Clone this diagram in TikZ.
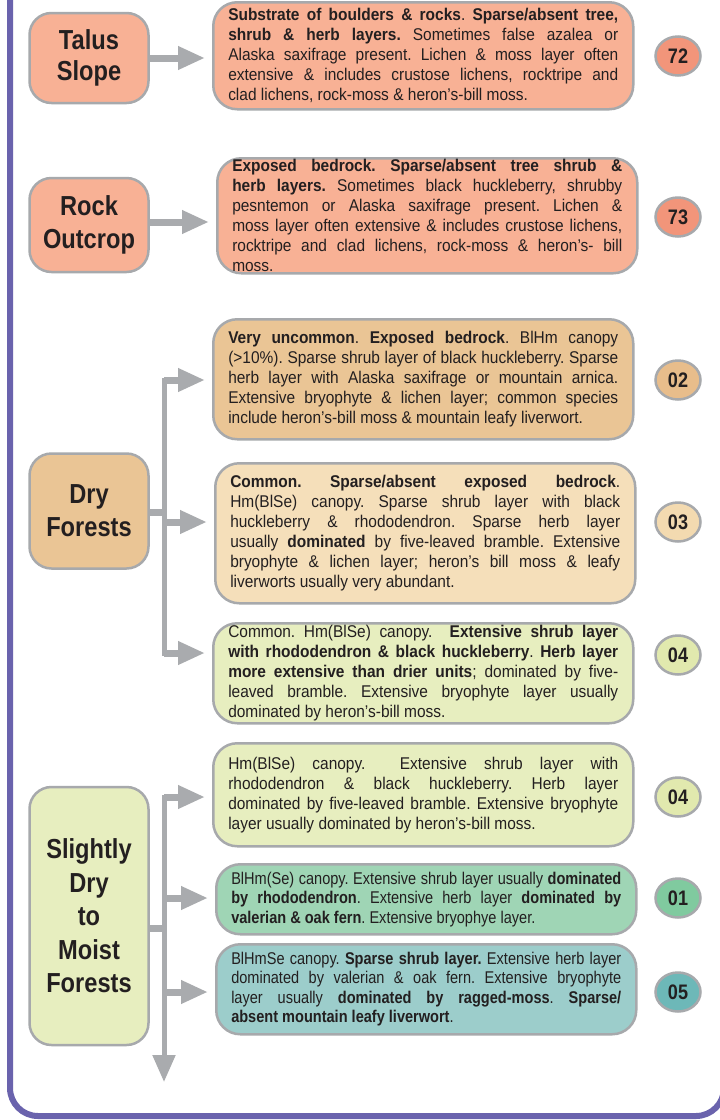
\documentclass[tikz,border=0pt]{standalone}
\usepackage{fontspec}
\setmainfont{Liberation Sans}[FakeStretch=0.91]
\newfontfamily\narrowf{Liberation Sans}[FakeStretch=0.856]
\newfontfamily\titlef{Liberation Sans}[FakeStretch=0.86]
\usetikzlibrary{arrows.meta,shapes.geometric}
\hyphenpenalty=10000
\exhyphenpenalty=10000
\tolerance=9999
\frenchspacing
\definecolor{framec}{HTML}{6A63AD}
\definecolor{edgec}{HTML}{A7A9AC}
\definecolor{arrowc}{HTML}{A9ABAE}
\definecolor{salmonbox}{HTML}{F8B195}
\definecolor{salmonnum}{HTML}{F2957A}
\definecolor{tanbox}{HTML}{EAC595}
\definecolor{tannum}{HTML}{E8BD8B}
\definecolor{creambox}{HTML}{F5DFBA}
\definecolor{creamnum}{HTML}{F3DAB0}
\definecolor{limebox}{HTML}{E7EEBF}
\definecolor{limenum}{HTML}{E1E9AE}
\definecolor{greenbox}{HTML}{9FD5B5}
\definecolor{greennum}{HTML}{80CA9F}
\definecolor{tealbox}{HTML}{9CCDCB}
\definecolor{tealnum}{HTML}{6DB8B8}
\definecolor{ink}{HTML}{231F20}
\begin{document}
\begin{tikzpicture}[x=1pt,y=-1pt,
  cat/.style={draw=edgec, line width=2.5pt, rounded corners=22pt, minimum width=119pt, align=center,
    font=\titlef\fontsize{27.5}{33}\selectfont\bfseries, text=ink, inner sep=0pt},
  desc/.style={draw=edgec, line width=2.5pt, rounded corners=24pt, text width=390pt, align=justify,
    font=\fontsize{17}{20}\selectfont, text=ink, inner xsep=15pt, inner ysep=0pt, anchor=north west},
  num/.style={draw=edgec, line width=2.5pt, ellipse, minimum width=45pt, minimum height=39pt, inner sep=0pt,
    font=\titlef\fontsize{21}{21}\selectfont\bfseries, text=ink},
  arr/.style={draw=arrowc, line width=7pt, -{Triangle[length=27pt,width=22pt]}, shorten >=7pt},
  stub/.style={draw=arrowc, line width=7pt},
  trunk/.style={draw=arrowc, line width=5pt}
]
\useasboundingbox (0,0) rectangle (720,1120);
\fill[white] (0,0) rectangle (720,1120);
% frame
\draw[framec, line width=6pt, rounded corners=28pt] (10,-30) -- (10,1116) -- (724,1116) -- (724,-30);

% category boxes
\node[cat, fill=salmonbox, minimum height=90pt, font=\titlef\fontsize{27.5}{31}\selectfont\bfseries] (talus) at (89,58) {Talus\\Slope};
\node[cat, fill=salmonbox, minimum height=94pt] (rock) at (89,225) {Rock\\Outcrop};
\node[cat, fill=tanbox, minimum height=115pt] (dry) at (89,511) {Dry\\Forests};
\node[cat, fill=limebox, minimum height=258pt, font=\titlef\fontsize{27.5}{33.5}\selectfont\bfseries] (moist) at (89,916)
  {Slightly\\Dry\\to\\Moist\\Forests};

% description boxes
\node[desc, fill=salmonbox, minimum height=107pt] (d72) at (212,1) {%
{\bfseries Substrate of boulders \& rocks}. {\bfseries Sparse/absent tree,}\linebreak
{\bfseries shrub \& herb layers.} Sometimes false azalea or\linebreak
Alaska saxifrage present. Lichen \& moss layer often\linebreak
extensive \& includes crustose lichens, rocktripe and\linebreak
clad lichens, rock-moss \& heron’s-bill moss.};

\node[desc, fill=salmonbox, minimum height=115pt] (d73) at (216,157) {%
{\bfseries Exposed bedrock. Sparse/absent tree shrub \&}\linebreak
{\bfseries herb layers.} Sometimes black huckleberry, shrubby\linebreak
pesntemon or Alaska saxifrage present. Lichen \&\linebreak
moss layer often extensive \& includes crustose lichens,\linebreak
rocktripe and clad lichens, rock-moss \& heron’s- bill\linebreak
moss.};

\node[desc, fill=tanbox, minimum height=120pt] (d02) at (212,318) {%
{\bfseries Very uncommon}. {\bfseries Exposed bedrock}. BlHm canopy\linebreak
(>10\%). Sparse shrub layer of black huckleberry. Sparse\linebreak
herb layer with Alaska saxifrage or mountain arnica.\linebreak
Extensive bryophyte \& lichen layer; common species\linebreak
include heron’s-bill moss \& mountain leafy liverwort.};

\node[desc, fill=creambox, minimum height=140pt] (d03) at (214,462) {%
{\bfseries Common. Sparse/absent exposed bedrock}.\linebreak
Hm(BlSe) canopy. Sparse shrub layer with black\linebreak
huckleberry \& rhododendron. Sparse herb layer\linebreak
usually {\bfseries dominated} by five-leaved bramble. Extensive\linebreak
bryophyte \& lichen layer; heron’s bill moss \& leafy\linebreak
liverworts usually very abundant.};

\node[desc, fill=limebox, minimum height=100pt] (d04a) at (212,622) {%
Common. Hm(BlSe) canopy. \ {\bfseries Extensive shrub layer}\linebreak
{\bfseries with rhododendron \& black huckleberry}. {\bfseries Herb layer}\linebreak
{\bfseries more extensive than drier units}; dominated by five-\linebreak
leaved bramble. Extensive bryophyte layer usually\linebreak
dominated by heron’s-bill moss.};

\node[desc, fill=limebox, minimum height=103pt] (d04b) at (212,742) {%
Hm(BlSe) canopy. \ Extensive shrub layer with\linebreak
rhododendron \& black huckleberry. Herb layer\linebreak
dominated by five-leaved bramble. Extensive bryophyte\linebreak
layer usually dominated by heron’s-bill moss.};

\node[desc, fill=greenbox, minimum height=70pt, font=\narrowf\fontsize{17}{19.5}\selectfont] (d01) at (215,863) {%
BlHm(Se) canopy. Extensive shrub layer usually {\bfseries dominated}\linebreak
{\bfseries by rhododendron}. Extensive herb layer {\bfseries dominated by}\linebreak
{\bfseries valerian \& oak fern}. Extensive bryophye layer.};

\node[desc, fill=tealbox, minimum height=90pt, font=\narrowf\fontsize{17}{19.5}\selectfont] (d05) at (215,943) {%
BlHmSe canopy. {\bfseries Sparse shrub layer.} Extensive herb layer\linebreak
dominated by valerian \& oak fern. Extensive bryophyte\linebreak
layer usually {\bfseries dominated by ragged-moss}. {\bfseries Sparse/}\linebreak
{\bfseries absent mountain leafy liverwort}.};

% number ellipses
\node[num, fill=salmonnum] (n72) at (678,56) {72};
\node[num, fill=salmonnum] (n73) at (678,217) {73};
\node[num, fill=tannum] (n02) at (678,380) {02};
\node[num, fill=creamnum] (n03) at (678,522) {03};
\node[num, fill=limenum] (n04a) at (678,655) {04};
\node[num, fill=limenum] (n04b) at (678,797) {04};
\node[num, fill=greennum] (n01) at (678,898) {01};
\node[num, fill=tealnum] (n05) at (678,992) {05};

% top arrows
\draw[arr] (talus.east) -- (talus.east -| d72.west);
\draw[arr] ([yshift=3pt]rock.east) -- ([yshift=3pt]rock.east -| d73.west);

% dry forests connectors
\coordinate (dt) at (164,380);
\coordinate (dm) at (164,522);
\coordinate (db) at (164,653);
\coordinate (dj) at (164,512);
\draw[trunk] ([yshift=2.5pt]dt) -- ([yshift=-2.5pt]db);
\draw[stub] (dj -| dry.east) -- (dj);
\draw[arr] (dt) -- (dt -| d02.west);
\draw[arr] (dm) -- (dm -| d03.west);
\draw[arr] (db) -- (db -| d04a.west);

% moist forests connectors
\coordinate (mt) at (164,797);
\coordinate (mm) at (164,898);
\coordinate (mb) at (164,992);
\coordinate (mj) at (164,928);
\coordinate (mend) at (164,1082);
\draw[trunk, -{Triangle[length=27pt,width=22pt]}] ([yshift=2.5pt]mt) -- (mend);
\draw[stub] (mj -| moist.east) -- (mj);
\draw[arr] (mt) -- (mt -| d04b.west);
\draw[arr] (mm) -- (mm -| d01.west);
\draw[arr] (mb) -- (mb -| d05.west);
\end{tikzpicture}
\end{document}
